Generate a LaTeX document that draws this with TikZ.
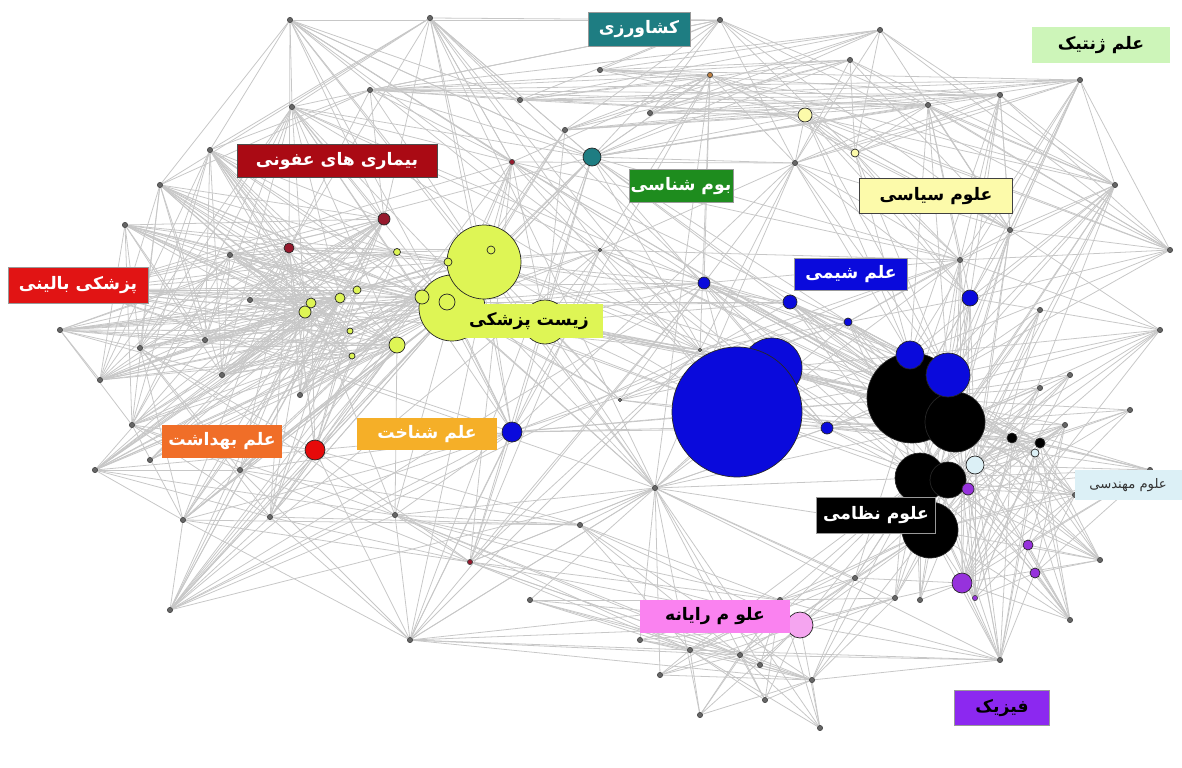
\documentclass[tikz,border=0pt]{standalone}
\usepackage{fontspec}
\newfontfamily\farsi[Script=Arabic]{DejaVu Sans}
\TeXXeTstate=1
\usetikzlibrary{backgrounds}
\newcommand{\rtl}[1]{\beginR #1\endR}

\definecolor{bmcol}{RGB}{222,245,85}
\definecolor{infcol}{RGB}{150,25,45}
\definecolor{infbox}{RGB}{170,10,20}
\definecolor{hygcol}{RGB}{230,10,10}
\definecolor{hygbox}{RGB}{240,110,40}
\definecolor{cogbox}{RGB}{245,175,40}
\definecolor{chcol}{RGB}{10,10,220}
\definecolor{engcol}{RGB}{220,240,246}
\definecolor{phycol}{RGB}{150,50,220}
\definecolor{phybox}{RGB}{140,40,240}
\definecolor{agrcol}{RGB}{30,125,130}
\definecolor{ecocol}{RGB}{30,140,30}
\definecolor{polcol}{RGB}{252,250,170}
\definecolor{gencol}{RGB}{205,245,185}
\definecolor{cliniccol}{RGB}{225,20,20}
\definecolor{cscol}{RGB}{245,165,240}
\definecolor{csbox}{RGB}{250,130,240}

\tikzset{
  blob/.style={circle,draw=black!85,line width=0.4pt,inner sep=0pt,minimum size=#1*0.4mm},
  spot/.style={blob=2.6,fill=black!60,draw=black!70},
  link/.style={draw=black!22,line width=0.45pt},
  tag/.style={font={\farsi\bfseries\fontsize{9.8}{11.5}\selectfont},inner sep=0pt,
    text=white,draw=black!40,line width=0.3pt}
}

\begin{document}
\begin{tikzpicture}[x=0.02cm,y=-0.02cm]
  \useasboundingbox (0,0) rectangle (1182,767);

  % small spots
  \foreach \n/\x/\y in {lp1/85/290,lp2/140/348,lp3/100/380,lp4/132/425,lp5/95/470,
      lp6/183/520,lp7/170/610,lp8/270/517,lp9/222/375,lp10/205/340,lp11/125/225,
      lp12/160/185,lp13/210/150,lp14/292/107,lp15/240/470,lp16/250/300,lp17/230/255,
      lp18/60/330,lp19/300/395,lp20/150/460}
    \node[spot] (\n) at (\x,\y) {};
  \foreach \n/\x/\y in {tp1/290/20,tp2/430/18,tp3/520/100,tp5/565/130,tp7/720/20,
      tp8/650/113,tp9/795/163,tp10/850/60,tp11/928/105,tp12/1000/95,tp13/1080/80,
      tp14/1115/185,tp15/370/90,tp16/600/70,tp17/880/30}
    \node[spot] (\n) at (\x,\y) {};
  \node[spot,fill=infcol] (tp4) at (512,162) {};
  \node[spot,fill=brown] (tp6) at (710,75) {};
  \foreach \n/\x/\y in {rp1/960/260,rp2/1040/310,rp3/1070/375,rp4/1040/388,rp5/1065/425,
      rp6/1130/410,rp7/1160/330,rp8/1075/495,rp9/1150/470,rp10/1100/560,rp11/1070/620,
      rp12/1010/230,rp13/1170/250}
    \node[spot] (\n) at (\x,\y) {};
  \foreach \n/\x/\y in {bp1/655/488,bp2/580/525,bp4/395/515,bp5/640/640,bp6/690/650,
      bp7/660/675,bp8/740/655,bp9/760/665,bp10/780/600,bp11/812/680,bp12/855/578,
      bp13/895/598,bp14/765/700,bp15/700/715,bp16/820/728,bp17/920/600,bp19/1000/660,
      bp20/530/600,bp21/410/640}
    \node[spot] (\n) at (\x,\y) {};
  \node[spot,fill=infcol] (bp3) at (470,562) {};
  \node[spot,fill=phycol] (bp18) at (975,598) {};
  \foreach \n/\x/\y in {cp1/700/350,cp2/600/250,cp3/620/400}
    \node[spot,fill=black!35,draw=black!40,blob=1.6] (\n) at (\x,\y) {};

  % biomedicine cluster
  \node[blob=33,fill=bmcol] (bm2) at (452,308) {};
  \node[blob=37,fill=bmcol] (bm1) at (484,262) {};
  \node[blob=22,fill=bmcol] (bm3) at (545,322) {};
  \node[blob=7,fill=bmcol] (bm4) at (422,297) {};
  \node[blob=8,fill=bmcol] (bm5) at (447,302) {};
  \node[blob=8,fill=bmcol] (bm6) at (397,345) {};
  \node[blob=6,fill=bmcol] (bm7) at (305,312) {};
  \node[blob=5,fill=bmcol] (bm8) at (311,303) {};
  \node[blob=5,fill=bmcol] (bm9) at (340,298) {};
  \node[blob=4,fill=bmcol] (bm10) at (357,290) {};
  \node[blob=3.5,fill=bmcol] (bm11) at (397,252) {};
  \node[blob=4,fill=bmcol] (bm12) at (448,262) {};
  \node[blob=4,fill=bmcol] (bm13) at (491,250) {};
  \node[blob=3,fill=bmcol] (bm14) at (352,356) {};
  \node[blob=3,fill=bmcol] (bm15) at (350,331) {};
  \node[blob=6,fill=infcol] (inf1) at (384,219) {};
  \node[blob=5,fill=infcol] (inf2) at (289,248) {};
  \node[blob=10,fill=hygcol] (hyg) at (315,450) {};

  % chemistry and military
  \node[blob=30,fill=chcol] (ch2) at (772,368) {};
  \node[blob=65,fill=chcol] (ch1) at (737,412) {};
  \node[blob=45,fill=black] (mil1) at (912,398) {};
  \node[blob=30,fill=black] (mil2) at (955,422) {};
  \node[blob=25,fill=black] (mil3) at (920,478) {};
  \node[blob=18,fill=black] (mil4) at (948,480) {};
  \node[blob=28,fill=black] (mil5) at (930,530) {};
  \node[blob=5,fill=black] (mil6) at (1012,438) {};
  \node[blob=5,fill=black] (mil7) at (1040,443) {};
  \node[blob=14,fill=chcol] (ch3) at (910,355) {};
  \node[blob=22,fill=chcol] (ch4) at (948,375) {};
  \node[blob=8,fill=chcol] (ch5) at (970,298) {};
  \node[blob=7,fill=chcol] (ch6) at (790,302) {};
  \node[blob=4,fill=chcol] (ch7) at (848,322) {};
  \node[blob=6,fill=chcol] (ch8) at (704,283) {};
  \node[blob=6,fill=chcol] (ch9) at (827,428) {};
  \node[blob=10,fill=chcol] (ch10) at (512,432) {};

  % other fields
  \node[blob=9,fill=engcol] (eng1) at (975,465) {};
  \node[blob=4,fill=engcol] (eng2) at (1035,453) {};
  \node[blob=6,fill=phycol] (phy1) at (968,489) {};
  \node[blob=10,fill=phycol] (phy2) at (962,583) {};
  \node[blob=5,fill=phycol] (phy3) at (1028,545) {};
  \node[blob=5,fill=phycol] (phy4) at (1035,573) {};
  \node[blob=9,fill=agrcol] (agr) at (592,157) {};
  \node[blob=7,fill=polcol] (pol1) at (805,115) {};
  \node[blob=4,fill=polcol] (pol2) at (855,153) {};
  \node[blob=13,fill=cscol] (cs1) at (800,625) {};

  % links
  \begin{pgfonlayer}{background}
    \foreach \a in {bm2,bm4,bm6,bm9,inf1,bm7}
      \foreach \b in {lp1,lp2,lp3,lp4,lp5,lp6,lp7,lp8,lp9,lp10,lp11,lp12,lp13,lp14,lp15,lp16,lp17,lp18,lp19,lp20}
        \draw[link] (\a) -- (\b);
    \foreach \a in {bm8,bm10,bm11,bm14,bm15,inf2}
      \foreach \b in {lp1,lp3,lp5,lp9,lp11,lp12,lp13,lp16,lp17,lp18,lp19,bm1,bm5,bm12,bm13,hyg}
        \draw[link] (\a) -- (\b);
    \foreach \a in {lp11,lp12,lp13,lp14,lp17,lp18}
      \foreach \b in {lp2,lp4,lp9,lp10,lp3}
        \draw[link] (\a) -- (\b);
    \foreach \a in {bm1,bm2,bm3,bm5}
      \foreach \b in {ch8,cp1,ch1,ch2,mil1,ch6,cp2,agr,tp4,tp5,ch10,bp1,cp3}
        \draw[link] (\a) -- (\b);
    \foreach \a in {tp6,tp7,tp10,tp11,tp12,tp13,tp17,pol1}
      \foreach \b in {tp3,tp5,tp8,tp9,agr,tp14,rp12,rp13,pol2,tp16,tp15}
        \draw[link] (\a) -- (\b);
    \foreach \a in {tp1,tp2,tp15}
      \foreach \b in {inf1,inf2,bm1,lp13,lp14,tp3,tp4,agr,tp7,lp12}
        \draw[link] (\a) -- (\b);
    \foreach \a in {mil1,mil2,mil3,mil5,eng1,phy2}
      \foreach \b in {rp1,rp2,rp3,rp4,rp5,rp6,rp7,rp8,rp9,rp10,rp11,bp12,bp13,bp17,bp18,bp19,ch5,tp14,rp12}
        \draw[link] (\a) -- (\b);
    \foreach \a in {ch5,rp1,rp12,ch3,ch4}
      \foreach \b in {tp11,tp12,tp13,tp14,rp13,rp7,pol1,pol2,tp9,ch7}
        \draw[link] (\a) -- (\b);
    \foreach \a in {bp1,bp6,bp8,bp10,cs1,bp11}
      \foreach \b in {bp2,bp3,bp4,bp5,bp7,bp9,bp12,bp13,bp14,bp15,bp16,bp20,bp21,mil5,mil3,bp19}
        \draw[link] (\a) -- (\b);
    \foreach \a in {ch8,cp1,cp2,agr,tp4,bp1,ch10}
      \foreach \b in {lp1,lp7,lp14,tp1,tp2,mil1,mil2,ch1,rp1,bp21,bp3,ch7,ch9,tp9,tp6}
        \draw[link] (\a) -- (\b);
    \foreach \a in {hyg,lp8,lp15,lp6,bp4}
      \foreach \b in {bm6,bm2,inf2,lp2,lp4,lp5,lp7,bp3,bp21,ch10,bp2}
        \draw[link] (\a) -- (\b);
    \foreach \a in {ch1,ch2,ch6,ch7,ch9,ch8}
      \foreach \b in {mil1,mil2,mil3,mil4,ch3,ch4,mil6,mil7,eng2,cp3}
        \draw[link] (\a) -- (\b);
    \foreach \a in {phy1,phy3,phy4,mil6,mil7,eng2}
      \foreach \b in {rp8,rp9,rp10,rp11,bp18,bp19,mil4,rp5}
        \draw[link] (\a) -- (\b);
  \end{pgfonlayer}

  % field labels
  \node[tag,fill=agrcol,minimum width=102*0.2mm,minimum height=34*0.2mm] (agrL) at (639,29) {\rtl{کشاورزی}};
  \node[tag,fill=gencol,text=black,draw=none,minimum width=138*0.2mm,minimum height=37*0.2mm] (genL) at (1101,45) {\rtl{علم ژنتیک}};
  \node[tag,fill=infbox,draw=black!70,minimum width=200*0.2mm,minimum height=33*0.2mm] (infL) at (337,161) {\rtl{بیماری های عفونی}};
  \node[tag,fill=ecocol,minimum width=104*0.2mm,minimum height=33*0.2mm] (ecoL) at (681,186) {\rtl{بوم شناسی}};
  \node[tag,fill=polcol,text=black,draw=black!75,line width=0.8pt,minimum width=153*0.2mm,minimum height=35*0.2mm] (polL) at (936,196) {\rtl{علوم سیاسی}};
  \node[tag,fill=cliniccol,minimum width=140*0.2mm,minimum height=36*0.2mm] (clinL) at (78,285) {\rtl{پزشکی بالینی}};
  \node[tag,fill=chcol,minimum width=113*0.2mm,minimum height=32*0.2mm] (chL) at (851,274) {\rtl{علم شیمی}};
  \node[tag,fill=bmcol,text=black,draw=none,minimum width=148*0.2mm,minimum height=34*0.2mm] (bmL) at (529,321) {\rtl{زیست پزشکی}};
  \node[tag,fill=hygbox,draw=none,minimum width=121*0.2mm,minimum height=33*0.2mm] (hygL) at (222,441) {\rtl{علم بهداشت}};
  \node[tag,fill=cogbox,draw=none,minimum width=140*0.2mm,minimum height=32*0.2mm] (cogL) at (427,434) {\rtl{علم شناخت}};
  \node[tag,fill=black,minimum width=119*0.2mm,minimum height=36*0.2mm] (milL) at (876,515) {\rtl{علوم نظامی}};
  \node[tag,fill=engcol,text=black!80,draw=none,font={\farsi\fontsize{7.5}{8.5}\selectfont},minimum width=107*0.2mm,minimum height=30*0.2mm] (engL) at (1128,485) {\rtl{علوم مهندسی}};
  \node[tag,fill=csbox,text=black,draw=none,minimum width=150*0.2mm,minimum height=33*0.2mm] (csL) at (715,616) {\rtl{علو م رایانه}};
  \node[tag,fill=phybox,text=black,draw=black!40,minimum width=95*0.2mm,minimum height=35*0.2mm] (phyL) at (1002,708) {\rtl{فیزیک}};
\end{tikzpicture}
\end{document}
